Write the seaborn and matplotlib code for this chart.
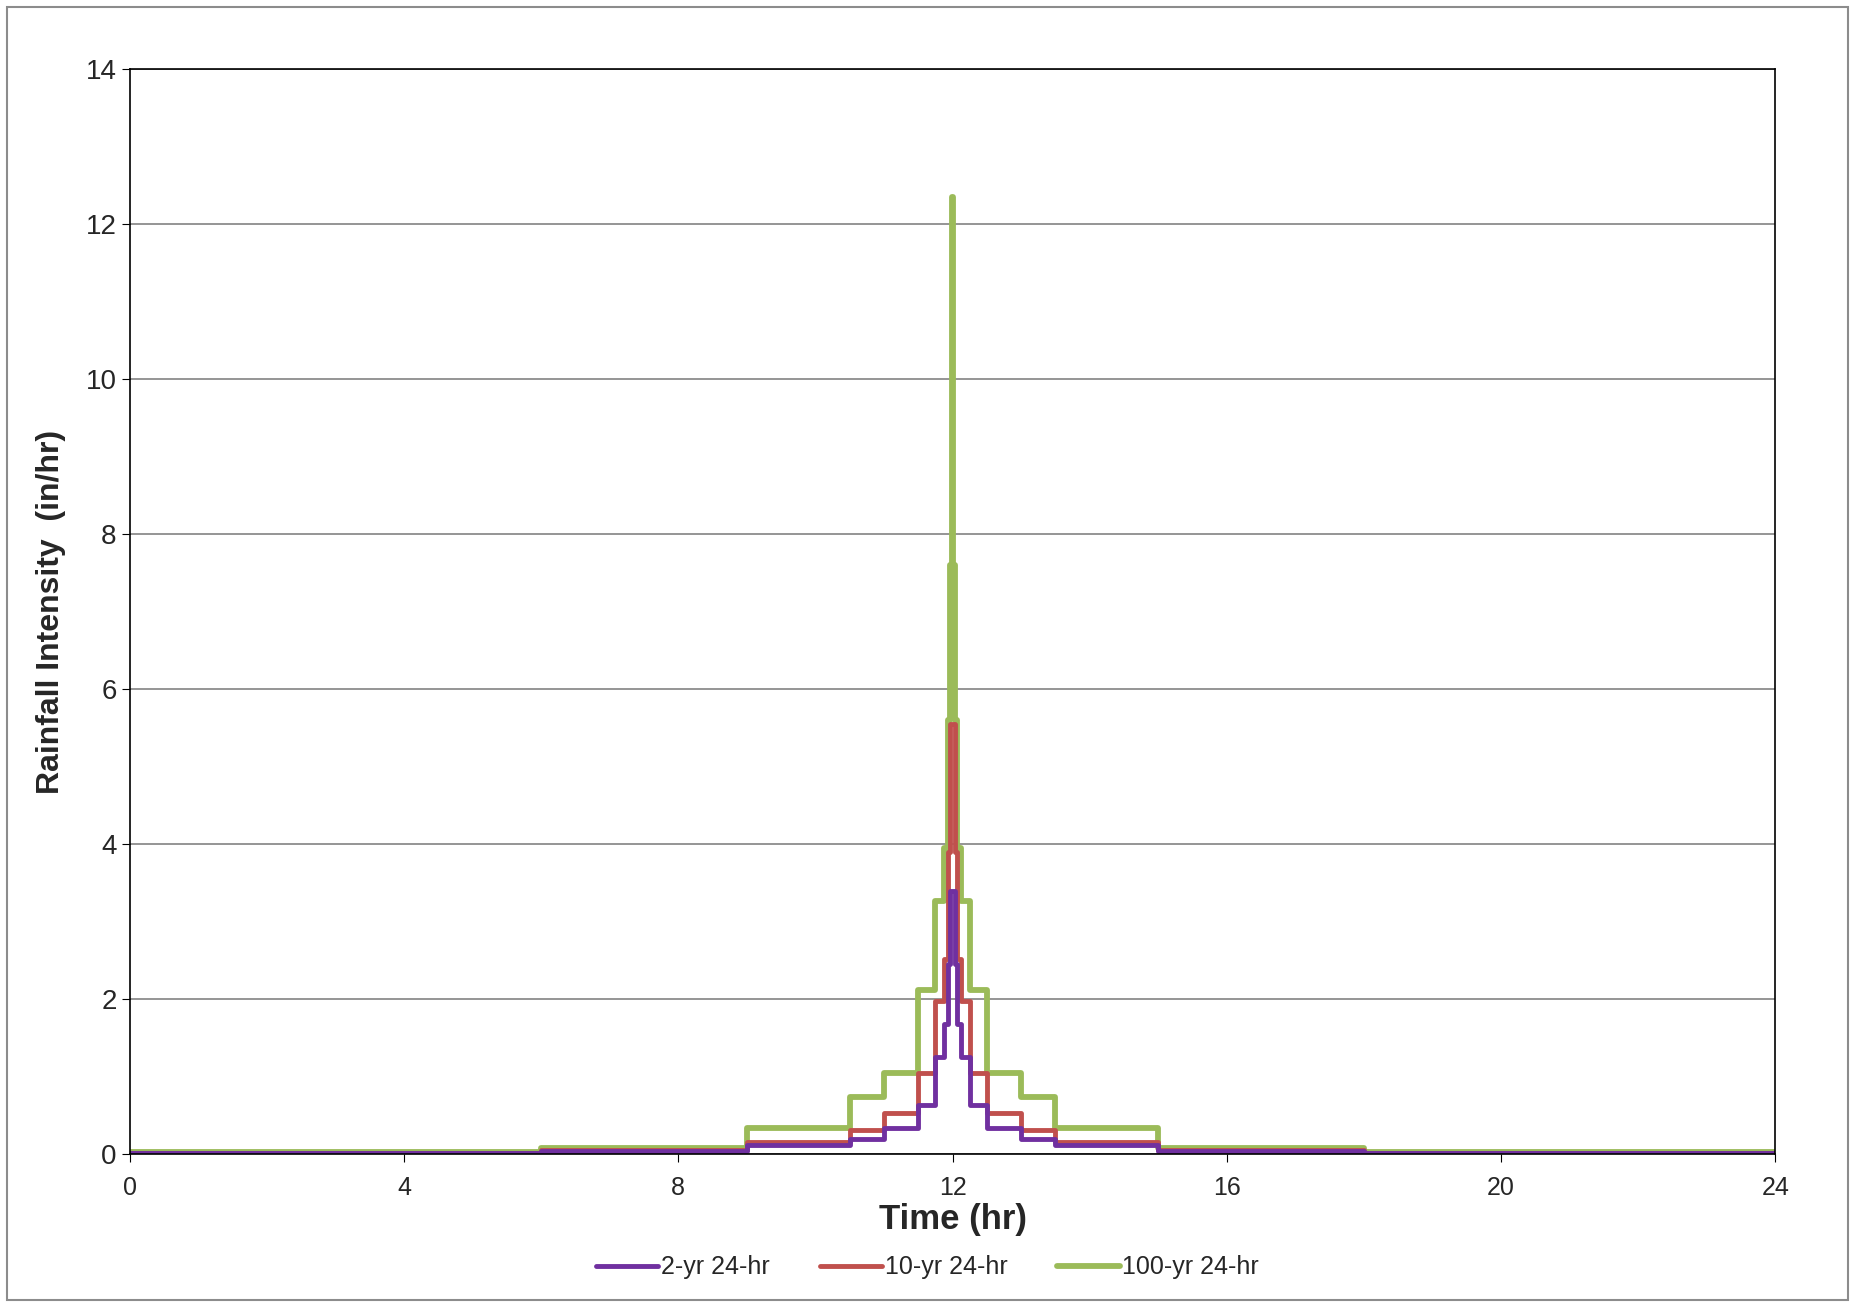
import matplotlib
matplotlib.use("Agg")
import matplotlib.pyplot as plt
import seaborn as sns
import pandas as pd

sns.set_style("white")
plt.rcParams['font.family'] = ['Liberation Sans', 'DejaVu Sans']

# left-half step edges (hr) and intensities (in/hr); the storm is symmetric about 12 hr
edges_left = [0, 6, 9, 10.5, 11, 11.5, 11.75, 11.875, 11.94, 11.97, 11.99]
green_left = [0.02, 0.08, 0.33, 0.73, 1.05, 2.12, 3.27, 3.95, 5.6, 7.6, 12.35]
red_left   = [0.01, 0.05, 0.15, 0.31, 0.53, 1.04, 1.97, 2.52, 3.9, 5.55, 5.55]
purple_left= [0.01, 0.04, 0.12, 0.20, 0.33, 0.63, 1.25, 1.68, 2.45, 3.4, 3.4]

def build(vals):
    right_starts = [12] + [12 + (12 - x) for x in reversed(edges_left[1:])]
    xs = edges_left + right_starts + [24]
    v = vals + list(reversed(vals))
    ys = v + [v[-1]]
    return xs, ys

rows = []
for name, vals in [("2-yr 24-hr", purple_left), ("10-yr 24-hr", red_left), ("100-yr 24-hr", green_left)]:
    xs, ys = build(vals)
    for x, y in zip(xs, ys):
        rows.append((name, x, y))
df = pd.DataFrame(rows, columns=["storm", "t", "i"])

fig = plt.figure(figsize=(18.55, 13.04), dpi=100)
ax = fig.add_axes([0.070, 0.115, 0.887, 0.832])
palette = {"2-yr 24-hr": "#7030A0", "10-yr 24-hr": "#C0504D", "100-yr 24-hr": "#9BBB59"}
widths = {"2-yr 24-hr": 3.5, "10-yr 24-hr": 3.5, "100-yr 24-hr": 4.2}
for name in ["100-yr 24-hr", "10-yr 24-hr", "2-yr 24-hr"]:
    sub = df[df.storm == name]
    sns.lineplot(data=sub, x="t", y="i", ax=ax, color=palette[name], lw=widths[name],
                 drawstyle="steps-post", label=name, estimator=None, sort=False)

ax.set_xlim(0, 24)
ax.set_ylim(0, 14)
ax.set_xticks(range(0, 25, 4))
ax.set_yticks(range(0, 15, 2))
ax.yaxis.grid(True, color="#8c8c8c", lw=1.3)
for s in ax.spines.values():
    s.set_color("black"); s.set_linewidth(1.2)
ax.tick_params(axis="x", labelsize=18, length=6, direction="out", bottom=True, color="black", pad=10)
ax.tick_params(axis="y", labelsize=20, length=6, direction="out", left=True, color="black")
ax.set_xlabel("Time (hr)", fontsize=25, fontweight="bold", labelpad=2)
ax.set_ylabel("Rainfall Intensity  (in/hr)", fontsize=23, fontweight="bold", labelpad=14)

h, l = ax.get_legend_handles_labels()
order = [l.index(n) for n in ["2-yr 24-hr", "10-yr 24-hr", "100-yr 24-hr"]]
ax.legend([h[i] for i in order], [l[i] for i in order], loc="center", bbox_to_anchor=(0.5, 0.028),
          bbox_transform=fig.transFigure, ncol=3, frameon=False, fontsize=18,
          handlelength=2.5, handletextpad=0.1, columnspacing=2.0)

fig.add_artist(plt.Rectangle((0.004, 0.003), 0.992, 0.992, transform=fig.transFigure,
                             fill=False, edgecolor="#8c8c8c", lw=1.5))
fig.savefig("out.png", dpi=100)
